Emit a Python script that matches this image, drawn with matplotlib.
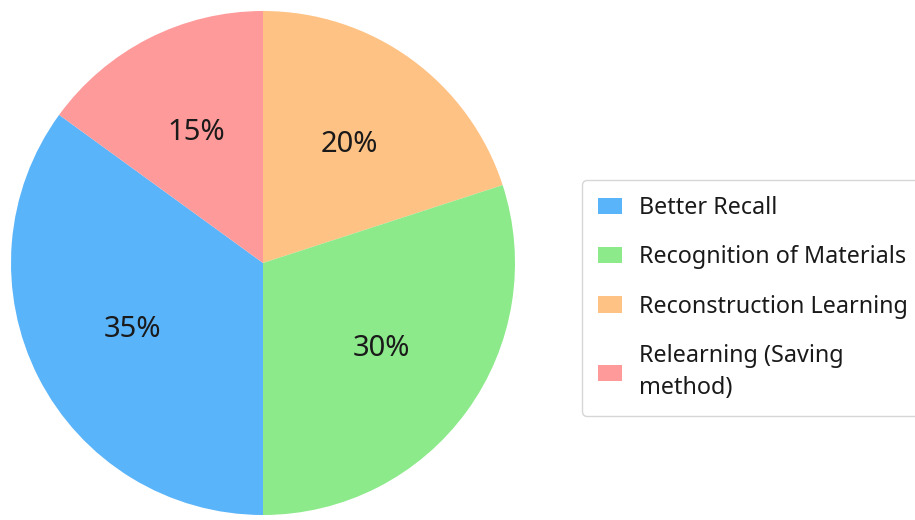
import matplotlib
matplotlib.use("Agg")
import matplotlib.pyplot as plt

plt.rcParams['font.family'] = ['Noto Sans', 'DejaVu Sans']

# categories in legend order
categorias = ['Better Recall', 'Recognition of Materials',
              'Reconstruction Learning', 'Relearning (Saving\nmethod)']
percentuais = [35, 30, 20, 15]
cores = ['#5AB4FA', '#8CEA8A', '#FFC285', '#FF9A9A']

# ordem de desenho: horario a partir do topo
ordem_pizza = [2, 1, 0, 3]

fig = plt.figure(figsize=(9.15, 5.2), dpi=100)
ax = fig.add_axes([11 / 915, 5 / 520, 504 / 915, 504 / 520])

fatias, textos, autotextos = ax.pie(
    [percentuais[i] for i in ordem_pizza],
    colors=[cores[i] for i in ordem_pizza],
    startangle=90, counterclock=False,
    autopct='%d%%', pctdistance=0.58,
    textprops={'fontsize': 21, 'color': '#1a1a1a'},
    wedgeprops={'linewidth': 0})
ax.set_xlim(-1, 1)
ax.set_ylim(-1, 1)
ax.set_aspect('equal')

# legenda na ordem original
handles = [fatias[ordem_pizza.index(i)] for i in range(len(categorias))]
leg = fig.legend(handles, categorias, loc='upper left',
                 bbox_to_anchor=(582 / 915, 1 - 180 / 520),
                 fontsize=16.8, frameon=True, fancybox=True,
                 handlelength=1.05, handleheight=0.7, handletextpad=0.72,
                 labelspacing=1.09, borderpad=0.68, borderaxespad=0)
leg.get_frame().set_edgecolor('#cccccc')
leg.get_frame().set_linewidth(1)
for t in leg.get_texts():
    t.set_color('#1a1a1a')
    t.set_linespacing(1.45)

fig.savefig('out.png', dpi=100)
